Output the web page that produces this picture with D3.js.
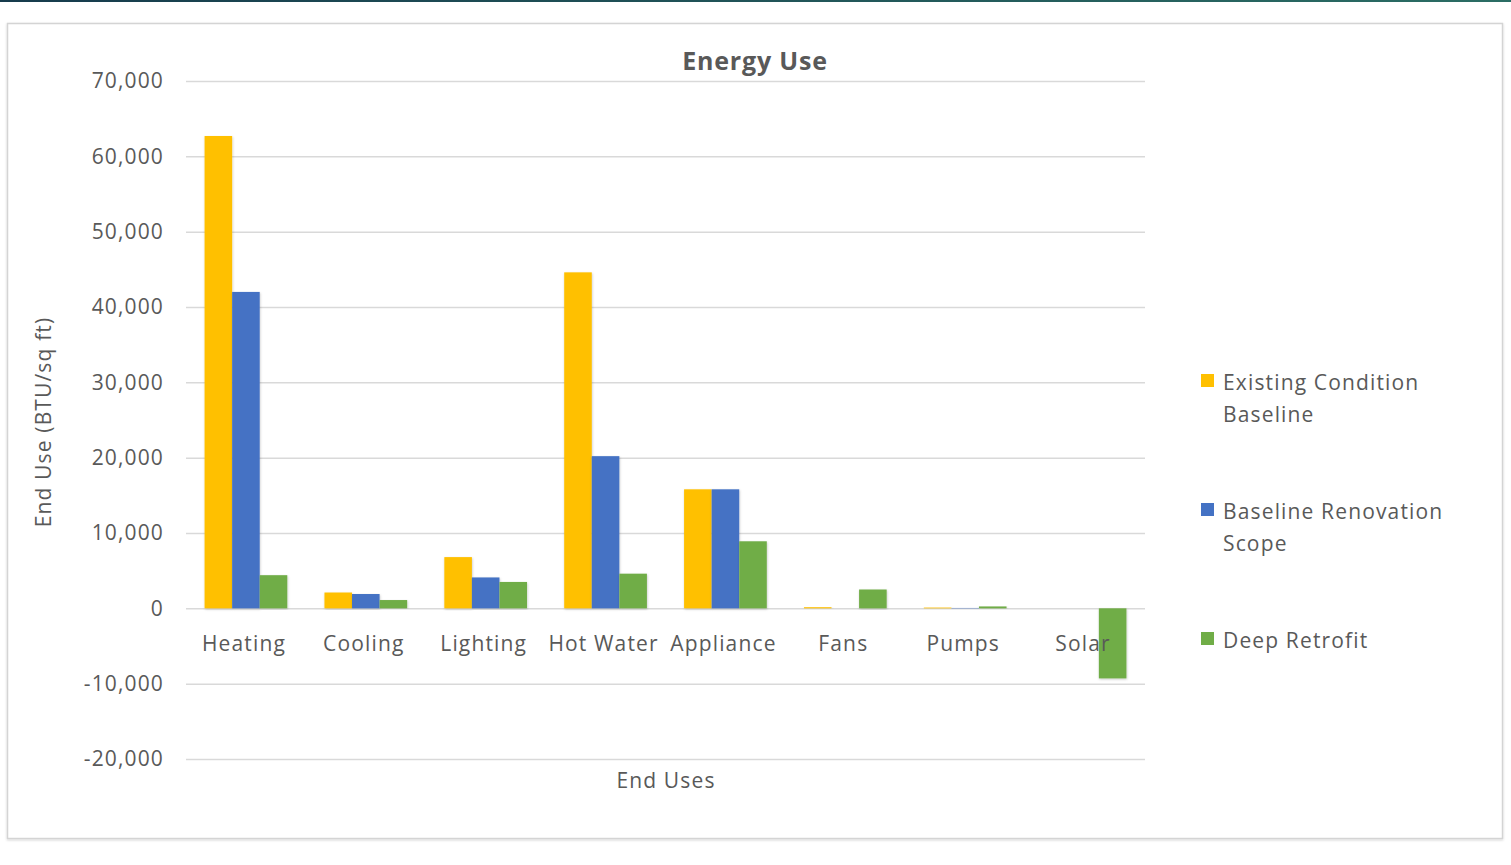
<!DOCTYPE html>
<html>
<head>
<meta charset="utf-8">
<script src="https://cdn.jsdelivr.net/npm/d3@7"></script>
<style>
  html, body { margin: 0; padding: 0; background: #fff; }
  svg { display: block; }
  text { font-family: "Open Sans", Lato, sans-serif; fill: #595959; letter-spacing: 1.15px; }
</style>
</head>
<body>
<svg id="chart" width="1511" height="865"></svg>
<script>
// End-use categories and the three scenarios (BTU per sq ft)
const categories = ["Heating", "Cooling", "Lighting", "Hot Water", "Appliance", "Fans", "Pumps", "Solar"];
const seriesNames = ["Existing Condition Baseline", "Baseline Renovation Scope", "Deep Retrofit"];
const existingBaseline = [62700, 2100, 6800, 44600, 15800, 150, 100, 0];
const renovationScope  = [42000, 1900, 4100, 20200, 15800, 0, 50, 0];
const deepRetrofit     = [4400, 1100, 3500, 4600, 8900, 2500, 250, -9300];
const yTicks = [-20000, -10000, 0, 10000, 20000, 30000, 40000, 50000, 60000, 70000];
const legendLines = [["Existing Condition", "Baseline"], ["Baseline Renovation", "Scope"], ["Deep Retrofit"]];
const colors = ["#FFC000", "#4472C4", "#70AD47"];

const seriesValues = [existingBaseline, renovationScope, deepRetrofit];
const rows = categories.map((c, i) => ({ category: c, values: seriesValues.map(s => s[i]) }));

const FONT = "'Open Sans', Lato, sans-serif";
const svg = d3.select("#chart");
const defs = svg.append("defs");

// Thin dark band across the top of the page
const grad = defs.append("linearGradient").attr("id", "topband").attr("x1", "0").attr("x2", "1");
grad.append("stop").attr("offset", "0").attr("stop-color", "#163b4c");
grad.append("stop").attr("offset", "1").attr("stop-color", "#2b6d64");
svg.append("rect").attr("x", 0).attr("y", 0).attr("width", 1511).attr("height", 2).attr("fill", "url(#topband)");

// Soft shadow for the frame and the bars
const frameShadow = defs.append("filter").attr("id", "frameShadow").attr("x", "-2%").attr("y", "-2%").attr("width", "104%").attr("height", "104%");
frameShadow.append("feDropShadow").attr("dx", 0).attr("dy", 1).attr("stdDeviation", 1.2).attr("flood-color", "#000").attr("flood-opacity", 0.18);
const barShadow = defs.append("filter").attr("id", "barShadow").attr("x", "-20%").attr("y", "-5%").attr("width", "140%").attr("height", "110%");
barShadow.append("feDropShadow").attr("dx", 0.5).attr("dy", 1).attr("stdDeviation", 1).attr("flood-color", "#000").attr("flood-opacity", 0.22);

// Chart frame
svg.append("rect")
  .attr("x", 7.5).attr("y", 23.5).attr("width", 1495).attr("height", 815)
  .attr("fill", "#fff").attr("stroke", "#d4d4d4").attr("stroke-width", 1.5)
  .attr("filter", "url(#frameShadow)");

const plot = { left: 186, right: 1145, top: 81, bottom: 759 };

const y = d3.scaleLinear().domain([-20000, 70000]).range([plot.bottom, plot.top]);
const x0 = d3.scaleBand().domain(categories).range([plot.left, plot.right])
  .paddingInner(0.31).paddingOuter(0.155);
const x1 = d3.scaleBand().domain(d3.range(seriesNames.length)).range([0, x0.bandwidth()]);

// Horizontal gridlines and value labels (plain hyphen for negatives)
const fmt = d3.format(",");
const yAxis = d3.axisLeft(y).tickValues(yTicks)
  .tickSize(-(plot.right - plot.left)).tickPadding(22)
  .tickFormat(d => fmt(d).replace("\u2212", "-"));
const gy = svg.append("g").attr("transform", `translate(${plot.left},0)`).call(yAxis);
gy.select(".domain").remove();
gy.selectAll(".tick line").attr("stroke", "#d9d9d9").attr("stroke-width", 1.5);
gy.selectAll(".tick text")
  .attr("font-size", 21).attr("fill", "#595959")
  .style("font-family", FONT);

// Bars
const groups = svg.append("g").selectAll("g").data(rows).join("g")
  .attr("transform", d => `translate(${x0(d.category)},0)`);
groups.selectAll("rect").data(d => d.values.map((v, i) => ({ v, i }))).join("rect")
  .attr("x", d => x1(d.i))
  .attr("width", x1.bandwidth())
  .attr("y", d => y(Math.max(0, d.v)))
  .attr("height", d => Math.abs(y(d.v) - y(0)))
  .attr("fill", d => colors[d.i])
  .attr("filter", "url(#barShadow)");

// Category labels under the zero line
svg.append("g").selectAll("text").data(categories).join("text")
  .attr("x", d => x0(d) + x0.bandwidth() / 2 - 2)
  .attr("y", 651)
  .attr("text-anchor", "middle")
  .attr("font-size", 21)
  .text(d => d);

// Titles
svg.append("text").attr("x", 755).attr("y", 70).attr("text-anchor", "middle")
  .attr("font-size", 25).attr("font-weight", 700).style("letter-spacing", "0.8px").text("Energy Use");
svg.append("text").attr("x", 666).attr("y", 788).attr("text-anchor", "middle")
  .attr("font-size", 21).text("End Uses");
svg.append("text").attr("transform", "translate(51,422) rotate(-90)").attr("text-anchor", "middle")
  .attr("font-size", 21).text("End Use (BTU/sq ft)");

// Legend
const legend = svg.append("g").selectAll("g").data(seriesNames).join("g")
  .attr("transform", (d, i) => `translate(1201,${382 + i * 129})`);
legend.append("rect").attr("x", 0).attr("y", -8).attr("width", 13).attr("height", 13)
  .attr("fill", (d, i) => colors[i]);
legend.append("text").attr("x", 22).attr("y", 8).attr("font-size", 21)
  .selectAll("tspan").data((d, i) => legendLines[i]).join("tspan")
  .attr("x", 22).attr("dy", (d, j) => j === 0 ? 0 : 32).text(d => d);
</script>
</body>
</html>
